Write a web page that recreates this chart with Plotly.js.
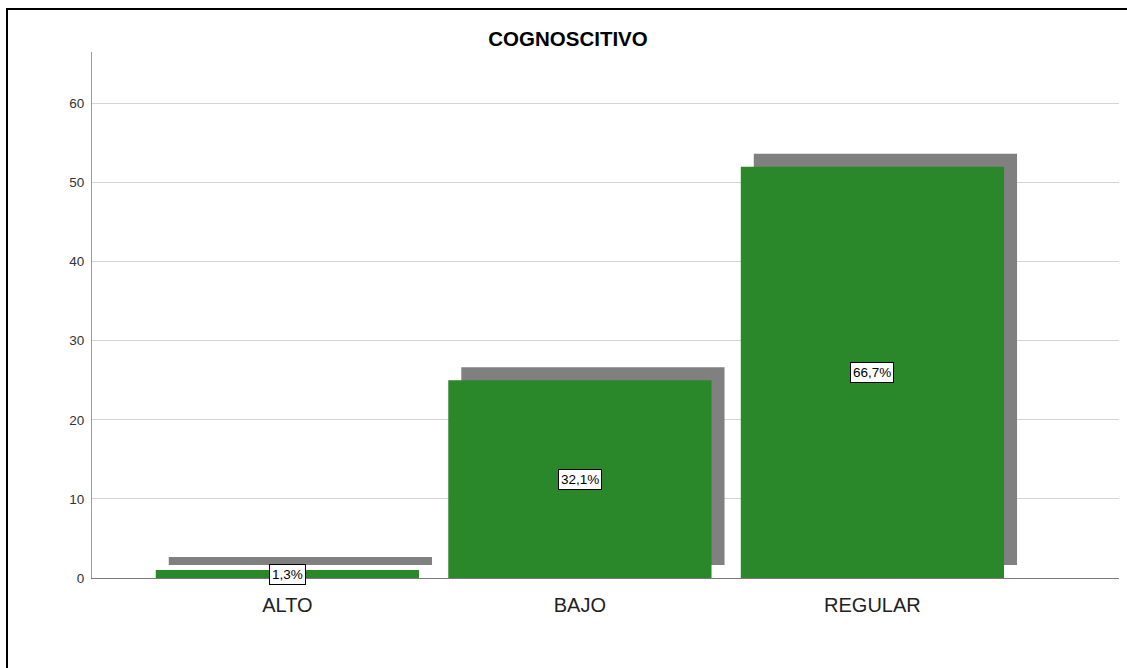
<!DOCTYPE html>
<html>
<head>
<meta charset="utf-8">
<script src="https://cdn.plot.ly/plotly-3.0.1.min.js"></script>
<style>
  html, body { margin: 0; padding: 0; background: #fff; overflow: hidden; }
  #wrap { position: relative; width: 1127px; height: 668px; }
  #frame { position: absolute; left: 6px; top: 8px; width: 1200px; height: 700px;
           border-top: 2px solid #000; border-left: 2px solid #000; pointer-events: none; z-index: 5; }
  #chart { position: absolute; left: 0; top: 0; width: 1127px; height: 668px; }
</style>
</head>
<body>
<div id="wrap">
  <div id="chart"></div>
  <div id="frame"></div>
</div>
<script>
const categories = ['ALTO', 'BAJO', 'REGULAR'];
const counts = [1, 25, 52];
const pctLabels = ['1,3%', '32,1%', '66,7%'];
const yTicks = [0, 10, 20, 30, 40, 50, 60];

const FONT = 'Liberation Sans, Arial, sans-serif';
const plotW = 1127 - 92 - 8;
const xSpan = 3.511;
const yTop = 66.5;
const plotH = 668 - 52 - 90;
const dxPx = 13, dyPx = 13;
const dx = dxPx * xSpan / plotW;
const dy = dyPx * yTop / plotH;
const barW = 0.9;

const shadow = {
  type: 'bar', x: categories, y: counts,
  base: counts.map(() => dy),
  width: barW, offset: -barW / 2 + dx,
  marker: { color: '#808080', line: { width: 0 } },
  hoverinfo: 'skip', showlegend: false
};
const bars = {
  type: 'bar', x: categories, y: counts,
  width: barW, offset: -barW / 2,
  marker: { color: '#2a872a', line: { width: 0 } },
  showlegend: false
};

const annotations = categories.map((c, i) => ({
  x: c, y: counts[i] / 2, xref: 'x', yref: 'y',
  text: pctLabels[i], showarrow: false,
  bgcolor: '#ffffff', bordercolor: '#000000', borderwidth: 1, borderpad: 2,
  font: { family: FONT, size: 13.5, color: '#000' }
}));

const layout = {
  width: 1127, height: 668,
  margin: { l: 92, r: 8, t: 52, b: 90 },
  paper_bgcolor: '#ffffff', plot_bgcolor: '#ffffff',
  barmode: 'overlay',
  title: { text: '<b>COGNOSCITIVO</b>', xref: 'container', x: 568 / 1127, xanchor: 'center',
           yref: 'container', y: 1 - 39 / 668, yanchor: 'middle',
           font: { family: FONT, size: 20.5, color: '#000' } },
  xaxis: {
    type: 'category', range: [-0.668, -0.668 + xSpan],
    showgrid: false, zeroline: false,
    showline: true, linecolor: '#7a7a7a', linewidth: 1,
    ticks: '', ticklabelstandoff: 9,
    tickfont: { family: FONT, size: 20, color: '#222' },
    fixedrange: true
  },
  yaxis: {
    range: [0, yTop], tickvals: yTicks, ticktext: yTicks.map(String),
    showgrid: true, gridcolor: '#d4d4d4', gridwidth: 1,
    zeroline: false, showline: true, linecolor: '#9a9a9a', linewidth: 1,
    ticks: '', ticklabelstandoff: 4,
    tickfont: { family: FONT, size: 13.5, color: '#333' },
    fixedrange: true
  },
  annotations: annotations
};

Plotly.newPlot('chart', [shadow, bars], layout, { displayModeBar: false, staticPlot: true });
</script>
</body>
</html>
